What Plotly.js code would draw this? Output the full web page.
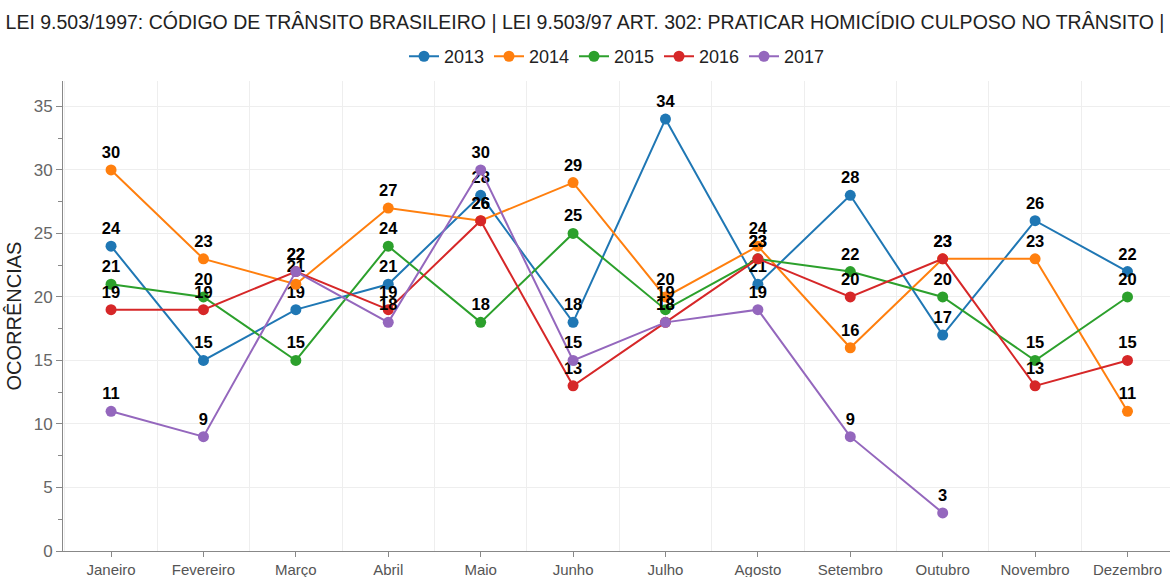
<!DOCTYPE html>
<html><head><meta charset="utf-8">
<script src="https://cdn.plot.ly/plotly-3.0.1.min.js"></script>
<style>body{margin:0;}#chart{width:1170px;height:577px;}</style>
</head><body><div id="chart"></div>
<script>
const months = ["Janeiro","Fevereiro","Março","Abril","Maio","Junho","Julho","Agosto","Setembro","Outubro","Novembro","Dezembro"];
const y2013 = [24,15,19,21,28,18,34,21,28,17,26,22];
const y2014 = [30,23,21,27,26,29,20,24,16,23,23,11];
const y2015 = [21,20,15,24,18,25,19,23,22,20,15,20];
const y2016 = [19,19,22,19,26,13,18,23,20,23,13,15];
const y2017 = [11,9,22,18,30,15,18,19,9,3];
const seriesNames = ["2013","2014","2015","2016","2017"];
const colors = ["#1f77b4","#ff7f0e","#2ca02c","#d62728","#9467bd"];
const allSeries = [y2013,y2014,y2015,y2016,y2017];

const traces = allSeries.map((ys,k)=>({
  type:"scatter", mode:"lines+markers+text",
  name: seriesNames[k],
  x: ys.map((v,i)=>i), y: ys,
  text: ys.map(v=>String(v)), textposition:"top center",
  textfont:{family:"Liberation Sans, Arial, sans-serif", size:16.5, color:"#000", weight:"bold"},
  line:{color:colors[k], width:2},
  marker:{color:colors[k], size:11},
  cliponaxis:false
}));

const layout = {
  width:1170, height:577,
  margin:{l:63, r:0, t:81, b:26},
  paper_bgcolor:"#fff", plot_bgcolor:"#fff",
  font:{family:"Liberation Sans, Arial, sans-serif", color:"#222"},
  title:{text:"LEI 9.503/1997: CÓDIGO DE TRÂNSITO BRASILEIRO | LEI 9.503/97 ART. 302: PRATICAR HOMICÍDIO CULPOSO NO TRÂNSITO |",
    x:0.5, xanchor:"center", y:0.962, yanchor:"middle", font:{size:19.5, color:"#222"}},
  showlegend:true,
  legend:{orientation:"h", x:0.5, xanchor:"center", y:1.052, yanchor:"middle",
    font:{size:18, color:"#222"}, entrywidth:40, entrywidthmode:"pixels", tracegroupgap:0},
  xaxis:{
    range:[-0.52, 11.46], tickmode:"array",
    tickvals: months.map((m,i)=>i), ticktext: months,
    showgrid:false, zeroline:false,
    showline:true, linecolor:"#888", linewidth:1,
    ticks:"outside", ticklen:5, tickcolor:"#888",
    tickfont:{size:15, color:"#555"},
    minor:{tick0:0.5, dtick:1, showgrid:true, gridcolor:"#eeeeee", gridwidth:1, ticks:""}
  },
  yaxis:{
    range:[0, 37], tick0:0, dtick:5,
    showgrid:true, gridcolor:"#eeeeee", zeroline:false,
    showline:true, linecolor:"#888", linewidth:1,
    ticks:"outside", ticklen:6, tickcolor:"#888",
    tickfont:{size:17, color:"#666"},
    minor:{dtick:2.5, ticks:"outside", ticklen:4, tickcolor:"#888", showgrid:false},
    title:{text:"OCORRÊNCIAS", font:{size:20, color:"#222"}, standoff:6}
  }
};
Plotly.newPlot("chart", traces, layout, {displayModeBar:false});
</script></body></html>
